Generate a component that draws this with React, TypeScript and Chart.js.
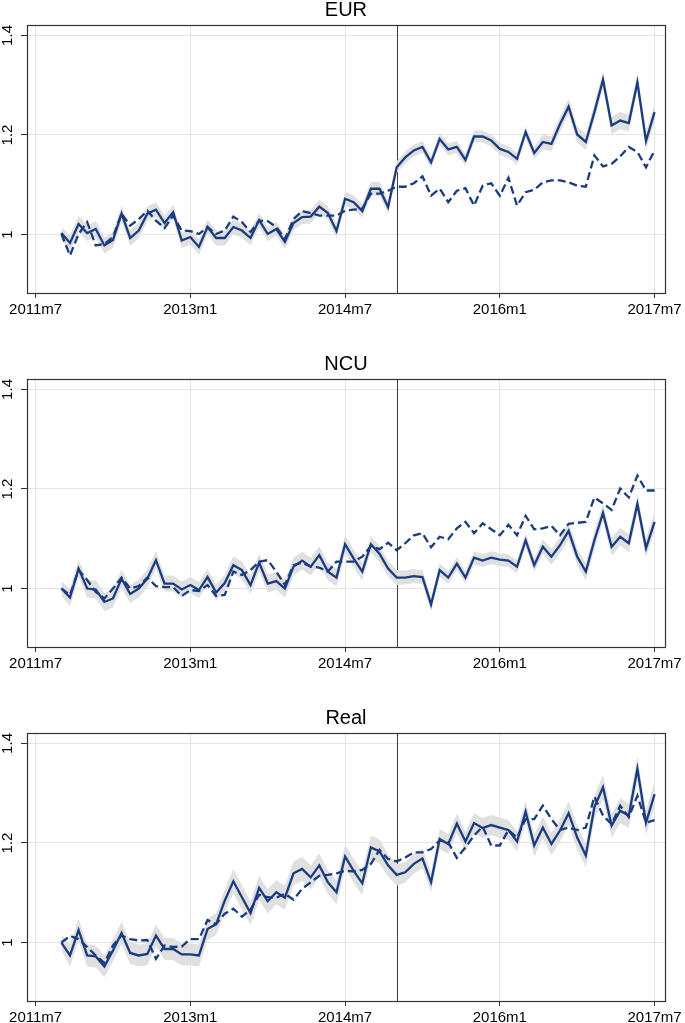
import React, { useEffect, useRef } from "react";
import { Chart, registerables } from "chart.js";

Chart.register(...registerables);

// ---------- data ----------
const START_MONTH = "2011m10";
const X_TICK_LABELS = ["2011m7", "2013m1", "2014m7", "2016m1", "2017m7"];
const Y_TICKS = [1, 1.2, 1.4];
const BREAK_MONTH = "2015m1";
const PANEL_TITLES = ["EUR", "NCU", "Real"];

const eurSolid = [1.003, 0.983, 1.021, 1.003, 1.011, 0.978, 0.989, 1.042, 0.993, 1.008,
  1.042, 1.050, 1.023, 1.045, 0.988, 0.995, 0.975, 1.015, 0.993, 0.993,
  1.015, 1.008, 0.993, 1.029, 1.001, 1.011, 0.985, 1.023, 1.035, 1.036,
  1.056, 1.043, 1.007, 1.072, 1.065, 1.047, 1.092, 1.092, 1.055, 1.135,
  1.155, 1.169, 1.176, 1.145, 1.192, 1.171, 1.176, 1.150, 1.197, 1.197,
  1.189, 1.172, 1.166, 1.152, 1.206, 1.164, 1.186, 1.182, 1.222, 1.257,
  1.201, 1.186, 1.246, 1.311, 1.219, 1.229, 1.224, 1.306, 1.188, 1.246];
const eurDashed = [1.001, 0.958, 1.001, 1.025, 0.978, 0.981, 0.995, 1.042, 1.018, 1.031,
  1.048, 1.028, 1.013, 1.038, 1.008, 1.007, 1.001, 1.015, 1.001, 1.008,
  1.036, 1.025, 1.005, 1.028, 1.027, 1.015, 0.991, 1.031, 1.047, 1.043,
  1.038, 1.038, 1.038, 1.048, 1.050, 1.052, 1.082, 1.082, 1.088, 1.096,
  1.096, 1.103, 1.117, 1.078, 1.092, 1.065, 1.088, 1.093, 1.058, 1.098,
  1.103, 1.078, 1.114, 1.058, 1.085, 1.090, 1.105, 1.109, 1.109, 1.105,
  1.098, 1.096, 1.159, 1.137, 1.142, 1.157, 1.176, 1.166, 1.135, 1.169];
const eurBand = [0.012, 0.016, 0.016, 0.016, 0.016, 0.016, 0.016, 0.016, 0.016, 0.016,
  0.015, 0.015, 0.015, 0.015, 0.015, 0.015, 0.015, 0.015, 0.015, 0.015,
  0.015, 0.014, 0.014, 0.014, 0.014, 0.014, 0.014, 0.014, 0.014, 0.014,
  0.014, 0.014, 0.014, 0.014, 0.014, 0.014, 0.014, 0.014, 0.014, 0.012,
  0.012, 0.012, 0.012, 0.012, 0.012, 0.012, 0.012, 0.012, 0.012, 0.012,
  0.012, 0.012, 0.012, 0.012, 0.012, 0.012, 0.015, 0.015, 0.015, 0.016,
  0.016, 0.016, 0.017, 0.017, 0.017, 0.017, 0.017, 0.017, 0.018, 0.018];

const ncuSolid = [1.000, 0.982, 1.040, 1.000, 0.998, 0.973, 0.980, 1.020, 0.989, 1.000,
  1.020, 1.057, 1.010, 1.010, 0.998, 1.007, 0.997, 1.023, 0.992, 1.011,
  1.047, 1.037, 1.007, 1.052, 1.010, 1.015, 1.000, 1.044, 1.056, 1.044,
  1.067, 1.034, 1.022, 1.089, 1.060, 1.034, 1.089, 1.070, 1.040, 1.022,
  1.022, 1.025, 1.023, 0.968, 1.037, 1.022, 1.050, 1.022, 1.062, 1.056,
  1.062, 1.058, 1.056, 1.044, 1.097, 1.047, 1.084, 1.064, 1.087, 1.116,
  1.064, 1.034, 1.097, 1.152, 1.084, 1.104, 1.091, 1.170, 1.081, 1.134];
const ncuDashed = [1.000, 0.987, 1.037, 1.017, 0.993, 0.980, 1.000, 1.022, 1.000, 1.005,
  1.022, 1.005, 1.003, 1.003, 0.985, 0.997, 0.995, 1.007, 0.985, 0.987,
  1.034, 1.027, 1.037, 1.054, 1.057, 1.034, 1.007, 1.047, 1.052, 1.044,
  1.042, 1.034, 1.054, 1.054, 1.054, 1.064, 1.085, 1.079, 1.092, 1.077,
  1.091, 1.107, 1.111, 1.083, 1.104, 1.099, 1.121, 1.134, 1.111, 1.131,
  1.119, 1.107, 1.128, 1.107, 1.146, 1.119, 1.121, 1.126, 1.107, 1.130,
  1.132, 1.134, 1.183, 1.171, 1.158, 1.201, 1.183, 1.227, 1.197, 1.197];
const ncuBand = [0.014, 0.018, 0.018, 0.018, 0.018, 0.018, 0.018, 0.018, 0.018, 0.018,
  0.018, 0.018, 0.016, 0.016, 0.016, 0.016, 0.016, 0.016, 0.016, 0.016,
  0.018, 0.018, 0.018, 0.018, 0.018, 0.018, 0.018, 0.018, 0.018, 0.018,
  0.018, 0.018, 0.018, 0.018, 0.018, 0.018, 0.016, 0.016, 0.016, 0.015,
  0.014, 0.014, 0.014, 0.014, 0.014, 0.013, 0.013, 0.013, 0.013, 0.013,
  0.013, 0.013, 0.013, 0.013, 0.014, 0.014, 0.015, 0.016, 0.016, 0.017,
  0.017, 0.018, 0.018, 0.018, 0.018, 0.018, 0.018, 0.019, 0.019, 0.019];

const realSolid = [1.000, 0.974, 1.025, 0.974, 0.972, 0.952, 0.984, 1.019, 0.979, 0.974,
  0.977, 1.014, 0.987, 0.987, 0.976, 0.976, 0.974, 1.027, 1.037, 1.084,
  1.123, 1.091, 1.059, 1.110, 1.083, 1.101, 1.090, 1.139, 1.148, 1.131,
  1.155, 1.121, 1.101, 1.173, 1.144, 1.119, 1.191, 1.183, 1.155, 1.136,
  1.141, 1.158, 1.169, 1.121, 1.208, 1.198, 1.239, 1.203, 1.240, 1.230,
  1.236, 1.231, 1.226, 1.203, 1.263, 1.195, 1.231, 1.198, 1.225, 1.260,
  1.211, 1.175, 1.272, 1.312, 1.235, 1.265, 1.255, 1.349, 1.241, 1.298];
const realDashed = [1.000, 1.013, 1.007, 0.991, 0.974, 0.959, 0.994, 1.014, 1.007, 1.004,
  1.005, 0.967, 0.994, 0.991, 0.992, 1.007, 1.007, 1.045, 1.037, 1.058,
  1.068, 1.052, 1.066, 1.096, 1.091, 1.090, 1.098, 1.086, 1.108, 1.121,
  1.134, 1.136, 1.139, 1.144, 1.143, 1.146, 1.158, 1.186, 1.168, 1.163,
  1.171, 1.181, 1.181, 1.188, 1.205, 1.201, 1.170, 1.191, 1.215, 1.233,
  1.195, 1.195, 1.226, 1.211, 1.248, 1.248, 1.275, 1.248, 1.226, 1.231,
  1.226, 1.231, 1.293, 1.255, 1.238, 1.275, 1.252, 1.295, 1.241, 1.246];
const realBand = [0.016, 0.022, 0.022, 0.022, 0.022, 0.022, 0.022, 0.022, 0.022, 0.022,
  0.022, 0.022, 0.022, 0.022, 0.022, 0.022, 0.022, 0.022, 0.022, 0.022,
  0.024, 0.024, 0.024, 0.024, 0.024, 0.024, 0.024, 0.024, 0.024, 0.024,
  0.024, 0.024, 0.024, 0.024, 0.024, 0.024, 0.024, 0.024, 0.022, 0.022,
  0.020, 0.020, 0.020, 0.020, 0.020, 0.020, 0.020, 0.020, 0.020, 0.020,
  0.020, 0.020, 0.020, 0.020, 0.022, 0.022, 0.022, 0.022, 0.022, 0.024,
  0.024, 0.024, 0.024, 0.024, 0.024, 0.025, 0.025, 0.025, 0.025, 0.025];

const PANEL_DATA = [
  { solid: eurSolid, dashed: eurDashed, band: eurBand },
  { solid: ncuSolid, dashed: ncuDashed, band: ncuBand },
  { solid: realSolid, dashed: realDashed, band: realBand },
];

// ---------- helpers / style ----------
const monthIndex = (s: string) => {
  const [y, m] = s.split("m").map(Number);
  return (y - 2011) * 12 + (m - 7);
};
const X_TICK_VALUES = X_TICK_LABELS.map(monthIndex);
const START = monthIndex(START_MONTH);
const BREAK = monthIndex(BREAK_MONTH);

const FONT = '"Liberation Sans", Arial, Helvetica, sans-serif';
const NAVY = "#1a3c7e";
const BAND = "#e0e0e0";
const GRID = "#e4e4e4";
const AXIS = "#333333";
const TEXT = "#000000";
const X_MIN = -1.0;
const X_MAX = 73.2;
const Y_MIN = 0.8825;
const Y_MAX = 1.421;
const PANEL_H = 315;
const PANEL_TOPS = [0, 354, 708];

const decorPlugin = {
  id: "decor",
  beforeDatasetsDraw(chart: any) {
    const { ctx, chartArea, scales } = chart;
    const x = Math.round(scales.x.getPixelForValue(BREAK)) + 0.5;
    ctx.save();
    ctx.strokeStyle = "#3c3c3c";
    ctx.lineWidth = 1;
    ctx.beginPath();
    ctx.moveTo(x, chartArea.top);
    ctx.lineTo(x, chartArea.bottom);
    ctx.stroke();
    ctx.restore();
  },
  afterDraw(chart: any, _args: any, opts: any) {
    const { ctx, chartArea, scales } = chart;
    ctx.save();
    // plot box
    ctx.strokeStyle = AXIS;
    ctx.lineWidth = 1.2;
    ctx.strokeRect(
      Math.round(chartArea.left) + 0.5,
      Math.round(chartArea.top) + 0.5,
      Math.round(chartArea.right - chartArea.left),
      Math.round(chartArea.bottom - chartArea.top)
    );
    // rotated y tick labels
    ctx.fillStyle = TEXT;
    ctx.font = `15px ${FONT}`;
    ctx.textAlign = "center";
    ctx.textBaseline = "middle";
    Y_TICKS.forEach((v) => {
      const y = scales.y.getPixelForValue(v);
      ctx.save();
      ctx.translate(8, y);
      ctx.rotate(-Math.PI / 2);
      ctx.fillText(String(v), 0, 0);
      ctx.restore();
    });
    // title
    ctx.font = `20px ${FONT}`;
    ctx.textAlign = "center";
    ctx.textBaseline = "alphabetic";
    ctx.fillText(opts.title, (chartArea.left + chartArea.right) / 2, 16);
    ctx.restore();
  },
};

function Panel({ index }: { index: number }) {
  const ref = useRef<HTMLCanvasElement | null>(null);
  useEffect(() => {
    const { solid, dashed, band } = PANEL_DATA[index];
    const xs = solid.map((_, i) => START + i);
    const pts = (arr: number[]) => arr.map((v, i) => ({ x: xs[i], y: v }));
    const upper = solid.map((v, i) => v + band[i]);
    const lower = solid.map((v, i) => v - band[i]);
    const chart = new Chart(ref.current as HTMLCanvasElement, {
      type: "line",
      data: {
        datasets: [
          { data: pts(solid), borderColor: NAVY, borderWidth: 2.3, pointRadius: 0, tension: 0, fill: false },
          { data: pts(dashed), borderColor: NAVY, borderWidth: 2.3, borderDash: [8, 4], pointRadius: 0, tension: 0, fill: false },
          { data: pts(upper), borderColor: "rgba(0,0,0,0)", borderWidth: 0, backgroundColor: BAND, pointRadius: 0, tension: 0, fill: "+1" },
          { data: pts(lower), borderColor: "rgba(0,0,0,0)", borderWidth: 0, pointRadius: 0, tension: 0, fill: false },
        ],
      } as any,
      options: {
        animation: false,
        responsive: false,
        maintainAspectRatio: false,
        layout: { padding: { top: 25, right: 19, left: 0, bottom: 0 } },
        plugins: {
          legend: { display: false },
          tooltip: { enabled: false },
          decor: { title: PANEL_TITLES[index] },
        } as any,
        scales: {
          x: {
            type: "linear",
            min: X_MIN,
            max: X_MAX,
            afterBuildTicks: (s: any) => {
              s.ticks = X_TICK_VALUES.map((v) => ({ value: v }));
            },
            afterFit: (s: any) => {
              s.height = 22;
            },
            ticks: {
              callback: (_v: any, i: number) => X_TICK_LABELS[i],
              font: { family: FONT, size: 15 },
              color: TEXT,
              padding: 3,
              autoSkip: false,
              maxRotation: 0,
              minRotation: 0,
            },
            grid: { color: GRID, lineWidth: 1, tickColor: AXIS, tickLength: 5, drawTicks: true },
            border: { display: true, color: AXIS, width: 1 },
          },
          y: {
            type: "linear",
            min: Y_MIN,
            max: Y_MAX,
            afterBuildTicks: (s: any) => {
              s.ticks = Y_TICKS.map((v) => ({ value: v }));
            },
            afterFit: (s: any) => {
              s.width = 27;
            },
            ticks: { display: false },
            grid: { color: GRID, lineWidth: 1, tickColor: AXIS, tickLength: 6, drawTicks: true },
            border: { display: true, color: AXIS, width: 1 },
          },
        },
      } as any,
      plugins: [decorPlugin],
    });
    return () => chart.destroy();
  }, [index]);
  return (
    <canvas
      ref={ref}
      width={685}
      height={PANEL_H}
      style={{ position: "absolute", left: 0, top: PANEL_TOPS[index], width: 685, height: PANEL_H }}
    />
  );
}

export default function App() {
  useEffect(() => {
    document.body.style.margin = "0";
    document.body.style.background = "#ffffff";
  }, []);
  return (
    <div style={{ position: "relative", width: 685, height: 1023, background: "#fff", overflow: "hidden" }}>
      {PANEL_TITLES.map((_, i) => (
        <Panel key={i} index={i} />
      ))}
    </div>
  );
}
